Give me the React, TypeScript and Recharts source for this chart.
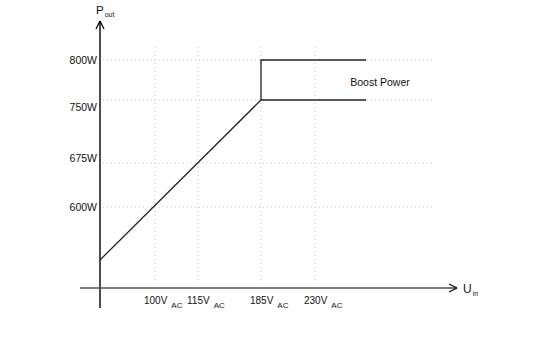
import React from 'react';
import { LineChart, Line, XAxis, YAxis, ReferenceLine, ReferenceDot } from 'recharts';

// Schematic chart: the axes are not to scale, so values are positions on the drawing
const X_TICKS = [55, 98, 161, 215];
const X_LABELS = ['100V', '115V', '185V', '230V'];
const Y_TICKS = [81, 125, 188, 228];
const Y_LABELS = ['600W', '675W', '750W', '800W'];
const Y_LABEL_SHIFT = [0, -5, 7, 0];

// Output power curve: ramp up, then hold with boost step
const RAMP = [
  { u: 0, p: 28 },
  { u: 161, p: 188 },
  { u: 161, p: 228 },
  { u: 266, p: 228 },
];
const NOMINAL = [
  { u: 161, p: 188 },
  { u: 266, p: 188 },
];

const GRID_TOP = 241;
const GRID_RIGHT = 332;
const FONT = '"Liberation Sans", Arial, Helvetica, sans-serif';
const GRID = '#c8c8c8';

const XTick = (props: any) => {
  const { x, payload } = props;
  const i = X_TICKS.indexOf(payload.value);
  return (
    <text x={x - 11} y={304} style={{ fontFamily: FONT }} fontSize={10} fill="#111">
      <tspan>{X_LABELS[i]}</tspan>
      <tspan dx={4} dy={4} fontSize={8}>AC</tspan>
    </text>
  );
};

const YTick = (props: any) => {
  const { y, payload } = props;
  const i = Y_TICKS.indexOf(payload.value);
  return (
    <text x={97} y={y + Y_LABEL_SHIFT[i] + 4} textAnchor="end" style={{ fontFamily: FONT }} fontSize={10.5} fill="#111">
      {Y_LABELS[i]}
    </text>
  );
};

export default function App() {
  return (
    <div style={{ position: 'absolute', left: 0, top: 0, background: '#fff', fontFamily: FONT }}>
      <LineChart width={542} height={343} margin={{ top: 15, right: 82, bottom: 0, left: 0 }}>
        <XAxis
          type="number"
          dataKey="u"
          domain={[-20, 360]}
          ticks={X_TICKS}
          tick={<XTick />}
          axisLine={false}
          tickLine={false}
          height={28}
          allowDataOverflow
        />
        <YAxis
          type="number"
          dataKey="p"
          domain={[-27, 273]}
          ticks={Y_TICKS}
          tick={<YTick />}
          axisLine={false}
          tickLine={false}
          width={80}
          allowDataOverflow
        />

        {X_TICKS.map((t) => (
          <ReferenceLine
            key={'vx' + t}
            segment={[{ x: t, y: 0 }, { x: t, y: GRID_TOP }]}
            stroke={GRID}
            strokeDasharray="1 3"
          />
        ))}
        {Y_TICKS.map((t) => (
          <ReferenceLine
            key={'hy' + t}
            segment={[{ x: 3, y: t }, { x: GRID_RIGHT, y: t }]}
            stroke={GRID}
            strokeDasharray="1 3"
          />
        ))}

        {/* axes with open arrowheads */}
        <ReferenceLine segment={[{ x: 0, y: -20 }, { x: 0, y: 267 }]} stroke="#000" strokeWidth={1.4} />
        <ReferenceLine segment={[{ x: -4, y: 259 }, { x: 0, y: 267 }]} stroke="#000" strokeWidth={1.2} />
        <ReferenceLine segment={[{ x: 4, y: 259 }, { x: 0, y: 267 }]} stroke="#000" strokeWidth={1.2} />
        <ReferenceLine segment={[{ x: -20, y: 0 }, { x: 357, y: 0 }]} stroke="#555" strokeWidth={1.4} />
        <ReferenceLine segment={[{ x: 349, y: 4 }, { x: 357, y: 0 }]} stroke="#000" strokeWidth={1.2} />
        <ReferenceLine segment={[{ x: 349, y: -4 }, { x: 357, y: 0 }]} stroke="#000" strokeWidth={1.2} />

        <Line data={RAMP} dataKey="p" type="linear" stroke="#222" strokeWidth={1.3} dot={false} isAnimationActive={false} />
        <Line data={NOMINAL} dataKey="p" type="linear" stroke="#222" strokeWidth={1.3} dot={false} isAnimationActive={false} />

        <ReferenceDot
          x={280}
          y={206}
          r={0}
          ifOverflow="visible"
          label={(p: any) => (
            <text x={p.viewBox.cx ?? p.viewBox.x} y={(p.viewBox.cy ?? p.viewBox.y) + 4} style={{ fontFamily: FONT }} fontSize={10.5} fill="#111" textAnchor="middle">
              Boost Power
            </text>
          )}
        />
        <ReferenceDot
          x={0}
          y={278}
          r={0}
          ifOverflow="visible"
          label={(p: any) => (
            <text x={(p.viewBox.cx ?? p.viewBox.x) - 4} y={(p.viewBox.cy ?? p.viewBox.y) + 4} style={{ fontFamily: FONT }} fontSize={11.5} fill="#111">
              <tspan>P</tspan>
              <tspan dx={1} dy={3} fontSize={7}>out</tspan>
            </text>
          )}
        />
        <ReferenceDot
          x={363}
          y={0}
          r={0}
          ifOverflow="visible"
          label={(p: any) => (
            <text x={p.viewBox.cx ?? p.viewBox.x} y={(p.viewBox.cy ?? p.viewBox.y) + 5} style={{ fontFamily: FONT }} fontSize={12} fill="#111">
              <tspan>U</tspan>
              <tspan dx={1} dy={3} fontSize={7}>in</tspan>
            </text>
          )}
        />
      </LineChart>
    </div>
  );
}
